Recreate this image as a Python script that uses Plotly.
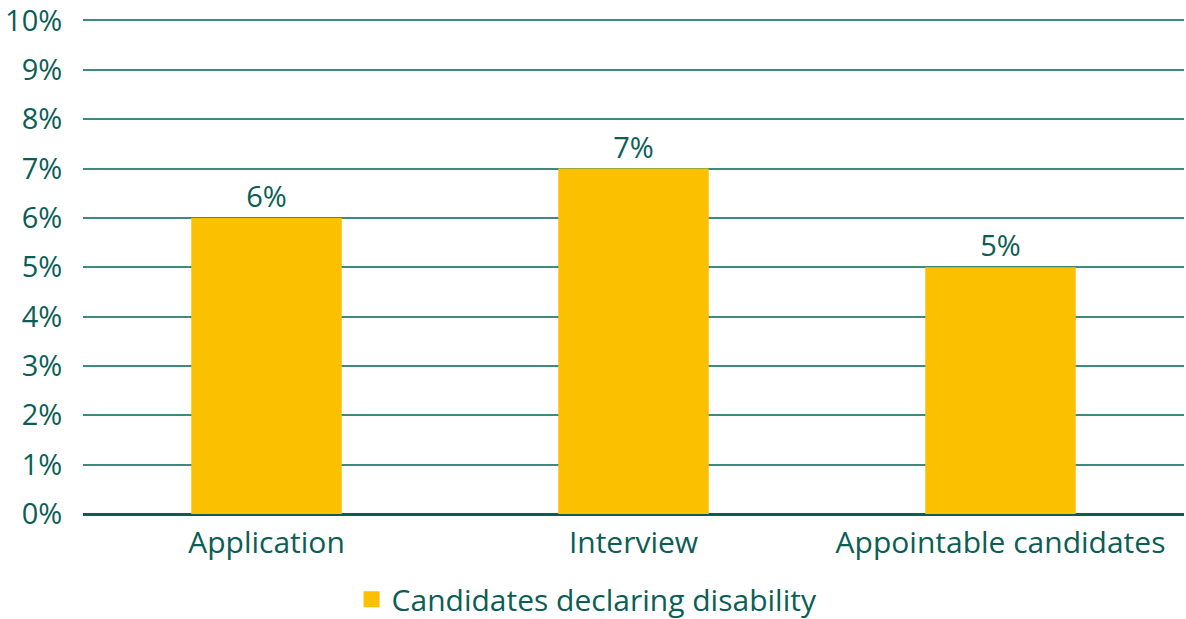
import plotly.graph_objects as go

categories = ["Application", "Interview", "Appointable candidates"]
values = [6, 7, 5]
labels = ["6%", "7%", "5%"]
series_name = "Candidates declaring disability"
tick_vals = list(range(0, 11))
tick_text = [f"{v}%" for v in tick_vals]

TEAL = "#0b5e55"
GRID = "#3f8a80"
BAR = "#fbc000"
FONT = "Open Sans"
FS = 29

fig = go.Figure()
fig.add_trace(go.Bar(
    x=categories, y=values, name=series_name,
    marker=dict(color=BAR, line=dict(width=0)),
    text=labels, textposition="outside", cliponaxis=False,
    textfont=dict(family=FONT, size=FS, color=TEAL),
    showlegend=False,
))
fig.add_trace(go.Scatter(
    x=[None], y=[None], mode="markers", name=series_name,
    marker=dict(symbol="square", size=21, color=BAR),
    showlegend=True,
))

fig.update_layout(
    width=1186, height=619,
    margin=dict(l=83, r=2, t=19, b=105, autoexpand=False),
    paper_bgcolor="white", plot_bgcolor="white",
    font=dict(family=FONT, size=FS, color=TEAL),
    bargap=0.59,
    showlegend=True,
    legend=dict(orientation="h", xref="container", yref="paper",
                x=0.495, xanchor="center", y=-0.172, yanchor="middle",
                font=dict(family=FONT, size=30, color=TEAL),
                itemwidth=30),
    xaxis=dict(showgrid=False, showline=False, automargin=False,
               tickfont=dict(size=30, color=TEAL),
               ticks="outside", ticklen=2, tickcolor="rgba(0,0,0,0)"),
    yaxis=dict(range=[0, 10.03], tickvals=tick_vals, ticktext=tick_text,
               automargin=False, ticklabeloverflow="allow",
               showgrid=True, gridcolor=GRID, gridwidth=2,
               zeroline=True, zerolinecolor=TEAL, zerolinewidth=3,
               tickfont=dict(size=FS, color=TEAL),
               ticks="outside", ticklen=14, tickcolor="rgba(0,0,0,0)"),
)

fig.write_html("out.html", config={"displayModeBar": False},
               post_script="document.body.style.margin='0';document.body.style.overflow='hidden';")
